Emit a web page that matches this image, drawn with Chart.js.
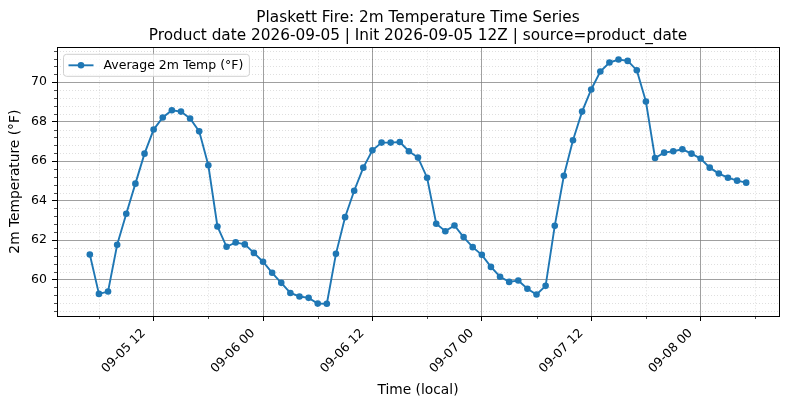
<!DOCTYPE html>
<html>
<head>
<meta charset="utf-8">
<script src="https://cdn.jsdelivr.net/npm/chart.js@4.4.0/dist/chart.umd.min.js"></script>
<style>
  html, body { margin: 0; padding: 0; background: #fff; }
  canvas { display: block; }
</style>
</head>
<body>
<canvas id="tempChart" width="790" height="409"></canvas>
<script>
// Hourly average 2m temperature (°F), 09-05 05:00 through 09-08 05:00 local
const temps = [
    61.27, 59.27, 59.39, 61.76, 63.33, 64.86, 66.38, 67.60, 68.21, 68.58,
    68.51, 68.16, 67.51, 65.79, 62.69, 61.66, 61.88, 61.78, 61.35, 60.90,
    60.34, 59.83, 59.32, 59.14, 59.07, 58.78, 58.77, 61.30, 63.16, 64.50,
    65.67, 66.55, 66.94, 66.94, 66.97, 66.50, 66.18, 65.16, 62.83, 62.45,
    62.74, 62.15, 61.64, 61.25, 60.64, 60.14, 59.88, 59.95, 59.53, 59.24,
    59.68, 62.72, 65.26, 67.06, 68.51, 69.63, 70.54, 71.00, 71.15, 71.08,
    70.61, 69.02, 66.16, 66.43, 66.50, 66.60, 66.38, 66.13, 65.67, 65.37,
    65.16, 65.01, 64.91
];
// hours since 2026-09-05 00:00, first sample at 05:00
const firstHour = 5;
const hours = temps.map((_, i) => firstHour + i);

const majorXTicks = [12, 24, 36, 48, 60, 72];
const minorXTicks = [6, 18, 30, 42, 54, 66, 78];
const majorYTicks = [60, 62, 64, 66, 68, 70];
const minorYStep = 0.4;

const seriesLabel = 'Average 2m Temp (°F)';
const titleLines = [
    'Plaskett Fire: 2m Temperature Time Series',
    'Product date 2026-09-05 | Init 2026-09-05 12Z | source=product_date'
];

const FONT = 'DejaVu Sans';
const LINE_COLOR = '#1f77b4';

// matplotlib-like 5% margins
const xSpan = hours[hours.length - 1] - hours[0];
const xMin = hours[0] - 0.05 * xSpan;
const xMax = hours[hours.length - 1] + 0.05 * xSpan;
const yLo = Math.min(...temps), yHi = Math.max(...temps);
const yMin = yLo - 0.05 * (yHi - yLo);
const yMax = yHi + 0.05 * (yHi - yLo);

function formatHour(h) {
    const day = 5 + Math.floor(h / 24);
    const hh = h % 24;
    return '09-' + String(day).padStart(2, '0') + ' ' + String(hh).padStart(2, '0');
}

function minorYValues() {
    const out = [];
    for (let v = Math.ceil(yMin / minorYStep) * minorYStep; v <= yMax; v += minorYStep) {
        const r = Math.round(v * 10) / 10;
        if (Math.abs(r / 2 - Math.round(r / 2)) > 1e-6) out.push(r);
    }
    return out;
}

// minor grid (dotted) and minor tick marks, plus top/right spines
const minorGridPlugin = {
    id: 'minorGrid',
    beforeDatasetsDraw(chart) {
        const { ctx, chartArea: a, scales } = chart;
        ctx.save();
        ctx.strokeStyle = 'rgba(0,0,0,0.16)';
        ctx.lineWidth = 0.8;
        ctx.setLineDash([1, 2]);
        minorXTicks.forEach(v => {
            const px = Math.round(scales.x.getPixelForValue(v)) + 0.5;
            if (px < a.left || px > a.right) return;
            ctx.beginPath(); ctx.moveTo(px, a.top); ctx.lineTo(px, a.bottom); ctx.stroke();
        });
        minorYValues().forEach(v => {
            const py = Math.round(scales.y.getPixelForValue(v)) + 0.5;
            ctx.beginPath(); ctx.moveTo(a.left, py); ctx.lineTo(a.right, py); ctx.stroke();
        });
        ctx.restore();
    },
    afterDraw(chart) {
        const { ctx, chartArea: a, scales } = chart;
        ctx.save();
        ctx.strokeStyle = '#000';
        ctx.lineWidth = 0.7;
        minorXTicks.forEach(v => {
            const px = Math.round(scales.x.getPixelForValue(v)) + 0.5;
            if (px < a.left || px > a.right) return;
            ctx.beginPath(); ctx.moveTo(px, a.bottom); ctx.lineTo(px, a.bottom + 3); ctx.stroke();
        });
        minorYValues().forEach(v => {
            const py = Math.round(scales.y.getPixelForValue(v)) + 0.5;
            ctx.beginPath(); ctx.moveTo(a.left, py); ctx.lineTo(a.left - 3, py); ctx.stroke();
        });
        ctx.lineWidth = 1;
        ctx.strokeRect(Math.round(a.left) + 0.5, Math.round(a.top) + 0.5,
            Math.round(a.right - a.left), Math.round(a.bottom - a.top));
        ctx.restore();
    }
};

// matplotlib-style legend box in the upper left of the axes
const legendBoxPlugin = {
    id: 'legendBox',
    afterDraw(chart) {
        const { ctx, chartArea: a } = chart;
        const ds = chart.data.datasets[0];
        const bx = a.left + 6.5, by = a.top + 7, bh = 22;
        ctx.save();
        ctx.font = '12.5px "' + FONT + '"';
        const tw = ctx.measureText(ds.label).width;
        const bw = 5 + 25 + 10 + tw + 6;
        ctx.beginPath();
        ctx.roundRect(bx, by, bw, bh, 3);
        ctx.fillStyle = 'rgba(255,255,255,0.8)';
        ctx.fill();
        ctx.strokeStyle = '#d0d0d0';
        ctx.lineWidth = 1;
        ctx.stroke();
        const cy = by + bh / 2;
        ctx.strokeStyle = ds.borderColor;
        ctx.lineWidth = ds.borderWidth;
        ctx.beginPath(); ctx.moveTo(bx + 5, cy); ctx.lineTo(bx + 30, cy); ctx.stroke();
        ctx.fillStyle = ds.borderColor;
        ctx.beginPath(); ctx.arc(bx + 17.5, cy, ds.pointRadius, 0, Math.PI * 2); ctx.fill();
        ctx.fillStyle = '#000';
        ctx.textBaseline = 'middle';
        ctx.fillText(ds.label, bx + 40, cy + 0.5);
        ctx.restore();
    }
};

const ctx = document.getElementById('tempChart').getContext('2d');
const chart = new Chart(ctx, {
    type: 'line',
    data: {
        datasets: [{
            label: seriesLabel,
            data: hours.map((h, i) => ({ x: h, y: temps[i] })),
            borderColor: LINE_COLOR,
            backgroundColor: LINE_COLOR,
            borderWidth: 1.9,
            pointRadius: 3.3,
            pointHoverRadius: 3.3,
            pointBorderWidth: 0,
            tension: 0,
            fill: false
        }]
    },
    options: {
        responsive: false,
        animation: false,
        events: [],
        layout: { padding: { left: 0, right: 11, top: 0, bottom: 0 } },
        plugins: {
            legend: { display: false },
            tooltip: { enabled: false },
            title: {
                display: true,
                fullSize: false,
                text: titleLines,
                color: '#000',
                font: { family: FONT, size: 15.3, weight: 'normal', lineHeight: 1.18 },
                padding: { top: 9, bottom: 2.2 }
            }
        },
        scales: {
            x: {
                type: 'linear',
                min: xMin,
                max: xMax,
                afterBuildTicks: axis => { axis.ticks = majorXTicks.map(v => ({ value: v })); },
                afterFit: axis => { axis.height = 93; },
                ticks: {
                    autoSkip: false,
                    minRotation: 45,
                    maxRotation: 45,
                    padding: 5,
                    labelOffset: -10,
                    color: '#000',
                    font: { family: FONT, size: 12.5 },
                    callback: v => formatHour(v)
                },
                grid: {
                    color: 'rgba(128,128,128,0.75)',
                    lineWidth: 1,
                    tickLength: 5,
                    tickColor: '#000',
                    tickWidth: 1
                },
                border: { color: '#000', width: 1 },
                title: {
                    display: true,
                    text: 'Time (local)',
                    color: '#000',
                    font: { family: FONT, size: 13.8, lineHeight: 1.2 },
                    padding: { top: 0, bottom: 10 }
                }
            },
            y: {
                type: 'linear',
                min: yMin,
                max: yMax,
                afterBuildTicks: axis => { axis.ticks = majorYTicks.map(v => ({ value: v })); },
                afterFit: axis => { axis.width = 57; },
                ticks: {
                    padding: 5,
                    color: '#000',
                    font: { family: FONT, size: 12.5 },
                    callback: v => String(v)
                },
                grid: {
                    color: 'rgba(128,128,128,0.75)',
                    lineWidth: 1,
                    tickLength: 5,
                    tickColor: '#000',
                    tickWidth: 1
                },
                border: { color: '#000', width: 1 },
                title: {
                    display: true,
                    text: '2m Temperature (°F)',
                    color: '#000',
                    font: { family: FONT, size: 13.8, lineHeight: 1.2 },
                    padding: { top: 7.5, bottom: 0 }
                }
            }
        }
    },
    plugins: [minorGridPlugin, legendBoxPlugin]
});
</script>
</body>
</html>
